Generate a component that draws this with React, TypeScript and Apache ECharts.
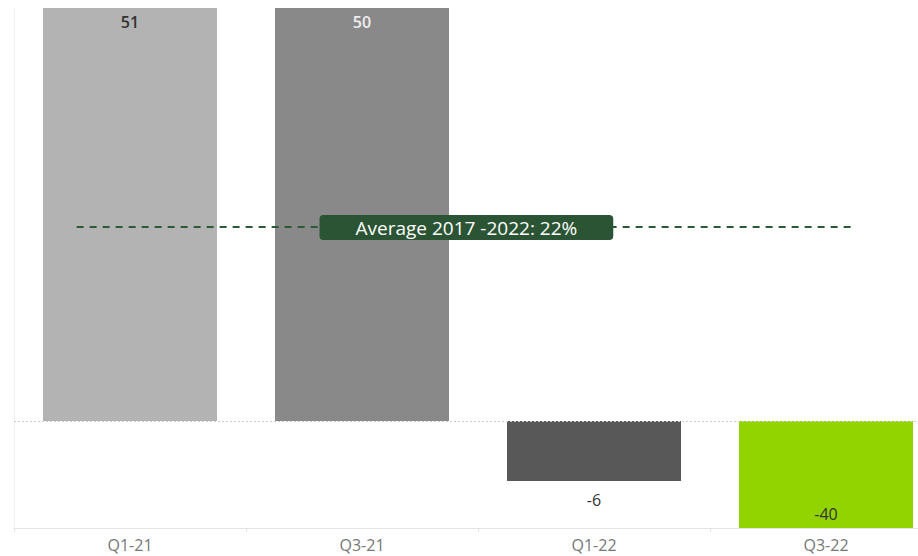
import React, { useEffect, useRef } from "react";
import * as echarts from "echarts";

const categories = ["Q1-21", "Q3-21", "Q1-22", "Q3-22"];
const values = [51, 50, -6, -40];
const barColors = ["#b3b3b3", "#898989", "#585858", "#92d400"];
const labelColors = ["#333333", "#eeeeee", "#333333", "#333333"];
const labelPositions = ["insideTop", "insideTop", "bottom", "insideBottom"];
const averageText = "Average 2017 -2022: 22%";
const averageLevel = 19.4;
const averageSpan = [0.27, 3.63];
const yRange = [-10.7, 41.3];

export default function App() {
  const ref = useRef<HTMLDivElement>(null);
  useEffect(() => {
    if (!ref.current) return;
    const chart = echarts.init(ref.current, undefined, { renderer: "svg" });
    chart.setOption({
      animation: false,
      backgroundColor: "#ffffff",
      grid: { left: 14, top: 8, width: 928, bottom: 28, containLabel: false },
      xAxis: [
        {
          type: "category",
          data: categories,
          boundaryGap: true,
          axisLine: {
            show: true,
            onZero: false,
            lineStyle: { color: "#e3e3e3", width: 1 },
          },
          axisTick: { show: true, length: 4, lineStyle: { color: "#e3e3e3" } },
          axisLabel: {
            color: "#777777",
            fontSize: 16,
            fontFamily: "Open Sans",
            margin: 9,
          },
        },
        { type: "value", min: 0, max: 4, show: false },
      ],
      yAxis: {
        type: "value",
        min: yRange[0],
        max: yRange[1],
        axisLine: { show: true, onZero: false, lineStyle: { color: "#eeeeee" } },
        axisTick: { show: false },
        axisLabel: { show: false },
        splitLine: { show: false },
      },
      series: [
        {
          type: "bar",
          barWidth: "75%",
          clip: true,
          data: values.map((v, i) => ({
            value: v,
            itemStyle: { color: barColors[i] },
            label: {
              show: true,
              position: labelPositions[i],
              color: labelColors[i],
              distance: i === 2 ? 11 : 6,
              fontSize: 16,
              fontFamily: "Open Sans",
              fontWeight: i < 2 ? 600 : 400,
            },
          })),
          markLine: {
            silent: true,
            symbol: "none",
            label: { show: false },
            lineStyle: { type: [2, 2], color: "#cfcfcf", width: 1 },
            data: [{ yAxis: 0 }],
          },
        },
        {
          type: "line",
          xAxisIndex: 1,
          data: [],
          markLine: {
            silent: true,
            symbol: "none",
            lineStyle: { type: [7, 6], color: "#2d5a36", width: 2 },
            label: {
              show: true,
              position: "middle",
              distance: 0,
              offset: [0, 13],
              formatter: averageText,
              color: "#ffffff",
              fontSize: 19,
              fontFamily: "Open Sans",
              backgroundColor: "#2b5434",
              borderRadius: 4,
              padding: [3, 36, 3, 36],
            },
            data: [
              [
                { coord: [averageSpan[0], averageLevel] },
                { coord: [averageSpan[1], averageLevel] },
              ],
            ],
          },
        },
      ],
    });
    return () => chart.dispose();
  }, []);
  return (
    <div
      style={{
        position: "fixed",
        left: 0,
        top: 0,
        width: 918,
        height: 556,
        overflow: "hidden",
      }}
    >
      <div ref={ref} style={{ width: 960, height: 556 }} />
    </div>
  );
}
